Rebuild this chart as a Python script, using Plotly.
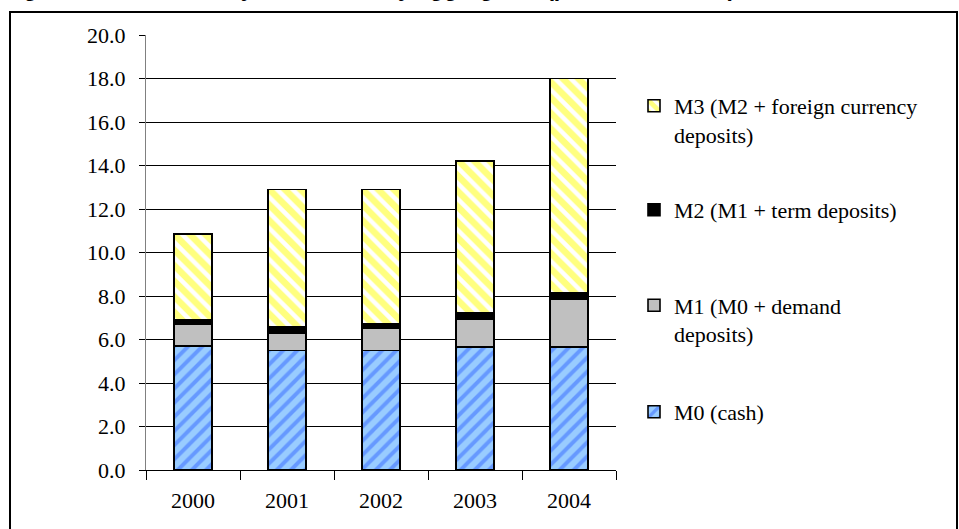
import plotly.graph_objects as go

years = ["2000", "2001", "2002", "2003", "2004"]
m0_cash = [5.7, 5.5, 5.5, 5.65, 5.65]
m1_demand = [1.0, 0.8, 1.0, 1.3, 2.2]
m2_term = [0.2, 0.3, 0.2, 0.3, 0.3]
m3_foreign = [3.95, 6.3, 6.2, 6.95, 9.85]

names = [
    "M0 (cash)",
    "M1 (M0 + demand<br>deposits)",
    "M2 (M1 + term deposits)",
    "M3 (M2 + foreign currency<br>deposits)",
]

W, H = 959, 529
L, R, T, B = 146, 343, 35, 59
PW, PH = W - L - R, H - T - B

def px_x(p):
    return (p - L) / PW

def px_y(p):
    return (H - B - p) / PH

serif = "Liberation Serif, Times New Roman, serif"

fig = go.Figure()
fig.add_trace(go.Bar(
    x=years, y=m0_cash, name=names[0], legend="legend4",
    marker=dict(color="#99CCFF", line=dict(color="black", width=1.6),
                pattern=dict(shape="/", bgcolor="#99CCFF", fgcolor="#3366FF",
                             size=10, solidity=0.4, fillmode="overlay")),
    width=0.4,
))
fig.add_trace(go.Bar(
    x=years, y=m1_demand, name=names[1], legend="legend3",
    marker=dict(color="#C0C0C0", line=dict(color="black", width=1.6)),
    width=0.4,
))
fig.add_trace(go.Bar(
    x=years, y=m2_term, name=names[2], legend="legend2",
    marker=dict(color="#000000", line=dict(color="black", width=1.6)),
    width=0.4,
))
fig.add_trace(go.Bar(
    x=years, y=m3_foreign, name=names[3], legend="legend",
    marker=dict(color="white", line=dict(color="black", width=1.6),
                pattern=dict(shape="\\", bgcolor="white", fgcolor="#FFFF00",
                             size=11, solidity=0.6, fillmode="overlay")),
    width=0.4,
))

def leg(py):
    return dict(x=px_x(634), y=px_y(py), xanchor="left", yanchor="middle", valign="top",
                font=dict(family=serif, size=22, color="black"),
                bgcolor="rgba(0,0,0,0)", borderwidth=0, itemclick=False)

fig.update_layout(
    width=W, height=H, autosize=False,
    margin=dict(l=L, r=R, t=T, b=B, pad=0),
    barmode="stack",
    plot_bgcolor="white", paper_bgcolor="white",
    font=dict(family=serif, size=22, color="black"),
    showlegend=True,
    legend=leg(120.5),
    legend2=leg(210),
    legend3=leg(320),
    legend4=leg(412),
    xaxis=dict(
        type="category", showgrid=False, showline=True, linecolor="black", linewidth=1,
        ticks="outside", tickson="boundaries", ticklen=9, tickcolor="black", tickwidth=1,
        tickfont=dict(family=serif, size=22, color="black"), ticklabelstandoff=11,
    ),
    yaxis=dict(
        range=[0, 20], dtick=2, tickformat=".1f", showgrid=True, gridcolor="black",
        gridwidth=1, showline=True, linecolor="#808080", linewidth=1, zeroline=False,
        ticks="outside", ticklen=6, tickcolor="black", tickwidth=1,
        tickfont=dict(family=serif, size=22, color="black"), ticklabelstandoff=9,
    ),
)

# outer chart border
fig.add_shape(type="rect", xref="paper", yref="paper",
              x0=px_x(10), x1=px_x(957), y0=px_y(540), y1=px_y(12),
              line=dict(color="black", width=2), fillcolor="rgba(0,0,0,0)", layer="above")

# title, mostly cut off above the picture (as in the reference)
fig.add_annotation(
    text="<b>Figure 3: Broad money and monetary aggregates (per cent of GDP)</b>",
    xref="paper", yref="paper", x=px_x(0.5), y=px_y(-12), xanchor="left", yanchor="middle",
    showarrow=False, font=dict(family="Liberation Sans", size=23, color="black"),
)

fig.write_html("out.html")
